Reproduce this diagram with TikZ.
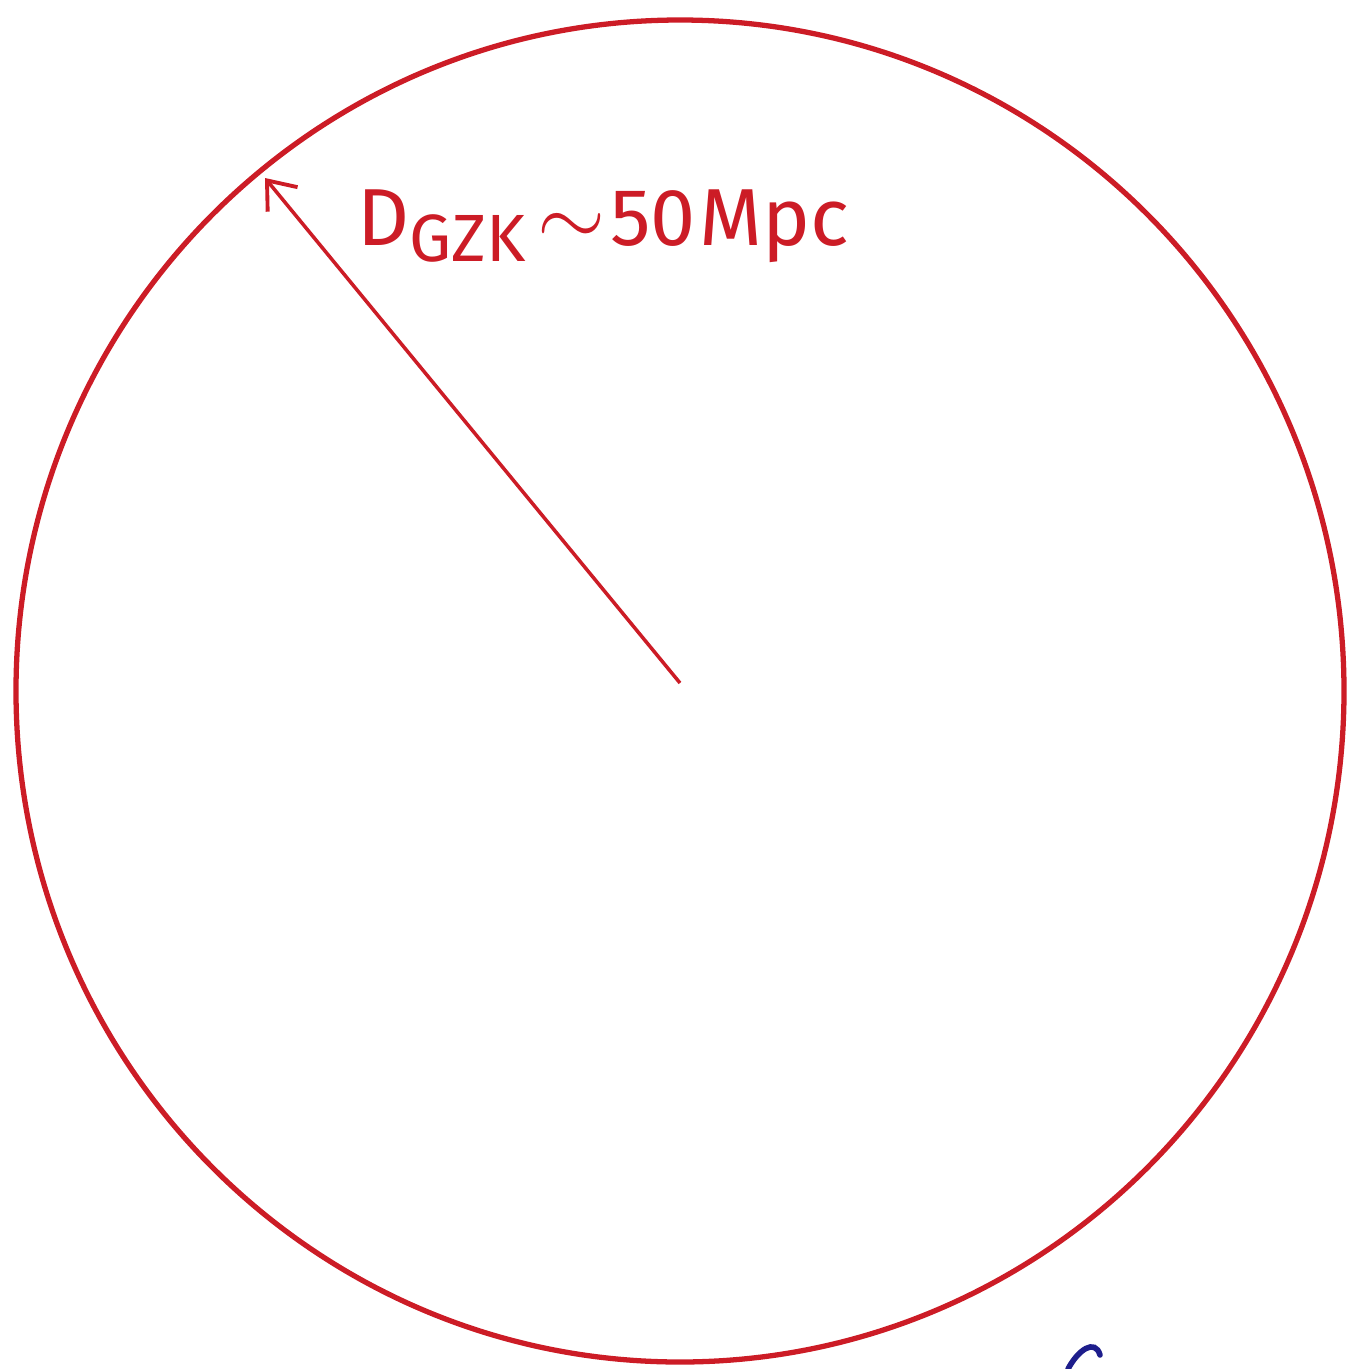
\documentclass[tikz,border=0pt]{standalone}
\usepackage{fontspec}
\setmainfont{Fira Sans}
\usetikzlibrary{arrows.meta}
\definecolor{ink}{RGB}{204,28,38}
\definecolor{pen}{RGB}{30,30,140}
\tikzset{
  rim/.style={draw=ink, line width=1.5pt},
  radius line/.style={draw=ink, line width=1pt, -{Straight Barb[length=7pt,width=11pt,line width=1.1pt]}},
  lbl/.style={text=ink, inner sep=0pt, font=\fontsize{23}{23}\selectfont},
}
\begin{document}
\begin{tikzpicture}[x=0.01cm,y=-0.01cm]
\useasboundingbox (0,0) rectangle (1350,1369);
\draw[rim] (680,691) ellipse [x radius=664, y radius=671];
\coordinate (c) at (680,683);
\coordinate (edge) at (265,178);
\draw[radius line] (c) -- (edge);
\node[lbl, anchor=base west] (label) at (357,245) {D\raisebox{-0.2em}{\fontsize{19}{19}\selectfont GZK}\kern0.15em$\sim$\kern0.05em 50\kern0.05em Mpc};
\draw[pen, line width=1.6pt, line cap=round] (1068,1369) .. controls (1078,1350) and (1095,1338) .. (1100,1355);
\end{tikzpicture}
\end{document}
